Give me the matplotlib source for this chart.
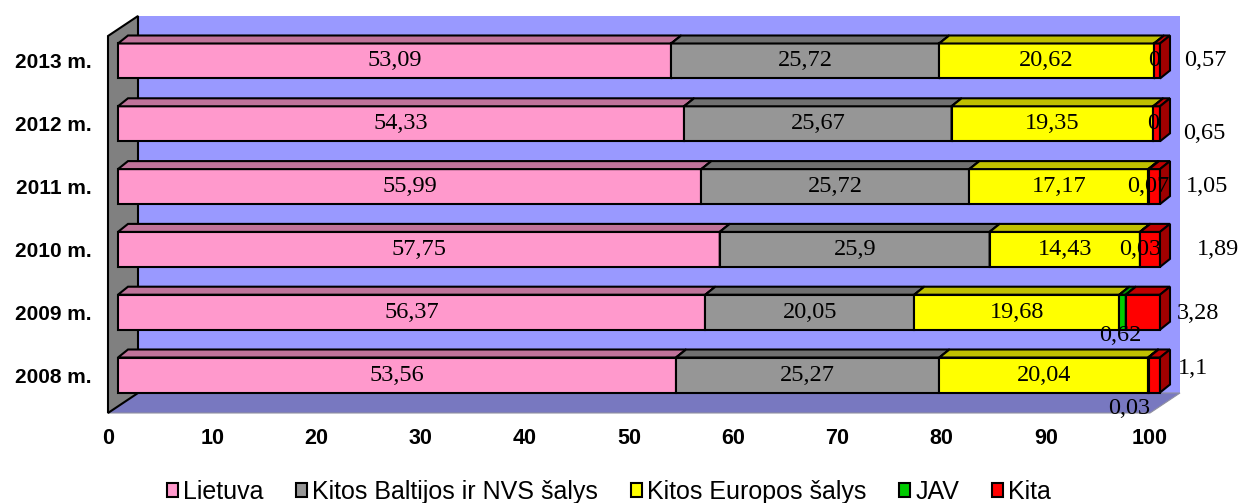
import matplotlib.pyplot as plt
from matplotlib.patches import Polygon, Rectangle

# data (bottom row first)
years = ['2008 m.', '2009 m.', '2010 m.', '2011 m.', '2012 m.', '2013 m.']
lietuva = [53.56, 56.37, 57.75, 55.99, 54.33, 53.09]
baltijos = [25.27, 20.05, 25.9, 25.72, 25.67, 25.72]
europos = [20.04, 19.68, 14.43, 17.17, 19.35, 20.62]
jav = [0.03, 0.62, 0.03, 0.07, 0, 0]
kita = [1.1, 3.28, 1.89, 1.05, 0.65, 0.57]
series_names = ['Lietuva', 'Kitos Baltijos ir NVS šalys', 'Kitos Europos šalys', 'JAV', 'Kita']
xticks = list(range(0, 101, 10))

series = [lietuva, baltijos, europos, jav, kita]
front = ['#FF99CC', '#969696', '#FFFF00', '#00CC00', '#FF0000']
top = ['#C0739A', '#707070', '#C0C000', '#009900', '#C00000']
side = ['#A0607F', '#606060', '#A0A000', '#008000', '#A00000']

# manual label nudges (pixels) for the small JAV / Kita values
jav_off = [(-19, -33), (-2, -23), (0, 0), (0, 0), (0, 0), (0, 0)]
kita_off = [(39, 7), (55, -1), (68, 0), (53, 0), (48, -10), (48, 0)]

fig = plt.figure(figsize=(12.4, 5.03), dpi=100)
ax = fig.add_axes([108/1240, (503-413)/503, (1150-108)/1240, (413-36)/503])
ylo, yhi = -0.605, 5.398
ax.set_xlim(0, 100)
ax.set_ylim(ylo, yhi)

pxx, pxy = 10.42, 62.8          # pixels per data unit
Dx, Dy = 30/pxx, 20/pxy         # wall depth
fx = 10/pxx                     # bars sit a bit behind the front plane
bdx, bdy = 10/pxx, 8/pxy        # bar depth
h = 35/pxy

# walls
ax.add_patch(Polygon([(Dx, ylo+Dy), (100+Dx, ylo+Dy), (100+Dx, yhi+Dy), (Dx, yhi+Dy)],
                     closed=True, fc='#9999FF', ec='none', clip_on=False, zorder=0))
ax.add_patch(Polygon([(0, ylo), (100, ylo), (100+Dx, ylo+Dy), (Dx, ylo+Dy)],
                     closed=True, fc='#7878C0', ec='#9090A0', lw=0.8, clip_on=False, zorder=0.5))
ax.add_patch(Polygon([(0, ylo), (0, yhi), (Dx, yhi+Dy), (Dx, ylo+Dy)],
                     closed=True, fc='#808080', ec='black', lw=1.5, clip_on=False, zorder=0.6))

def fmt(v):
    return f'{v:g}'.replace('.', ',')

z = 2
for i, y in enumerate(range(len(years))):
    left = 0
    for k, vals in enumerate(series):
        w = vals[i]
        if w > 0:
            x0, x1 = left + fx, left + w + fx
            ax.barh(y, w, left=x0, height=h, color=front[k], edgecolor='black',
                    linewidth=1.5, zorder=z, clip_on=False)
            ax.add_patch(Polygon([(x0, y+h/2), (x1, y+h/2), (x1+bdx, y+h/2+bdy), (x0+bdx, y+h/2+bdy)],
                                 closed=True, fc=top[k], ec='black', lw=1.5, zorder=z, clip_on=False))
            ax.add_patch(Polygon([(x1, y-h/2), (x1+bdx, y-h/2+bdy), (x1+bdx, y+h/2+bdy), (x1, y+h/2)],
                                 closed=True, fc=side[k], ec='black', lw=1.5, zorder=z, clip_on=False))
            z += 1
        left += w
    # labels
    left = 0
    for k, vals in enumerate(series):
        w = vals[i]
        cx = left + w/2 + fx
        off = (0, 0)
        if k == 3:
            off = jav_off[i]
        elif k == 4:
            off = kita_off[i]
        ax.annotate(fmt(w), (cx, y), xytext=off, textcoords='offset pixels',
                    ha='center', va='center', fontsize=17.5, family='Liberation Serif',
                    zorder=100, annotation_clip=False)
        left += w

ax.set_yticks(range(len(years)))
ax.set_yticklabels(years, fontsize=15, fontweight='bold', family='Liberation Sans')
ax.set_xticks(xticks)
ax.set_xticklabels([str(t) for t in xticks], fontsize=15.5, fontweight='bold', family='Liberation Sans')
ax.tick_params(axis='y', length=0, pad=12)
ax.tick_params(axis='x', length=0, pad=11)
for s in ax.spines.values():
    s.set_visible(False)
ax.patch.set_visible(False)

handles = [Rectangle((0, 0), 1, 1, fc=front[k], ec='black', lw=1.5) for k in range(5)]
fig.legend(handles, series_names, loc='center', bbox_to_anchor=(0.491, 1 - 492/503), ncol=5,
           frameon=False, prop={'family': 'Liberation Sans', 'size': 18},
           handlelength=0.45, handleheight=0.45, handletextpad=0.2, columnspacing=1.3)

fig.savefig('out.png', dpi=100)
